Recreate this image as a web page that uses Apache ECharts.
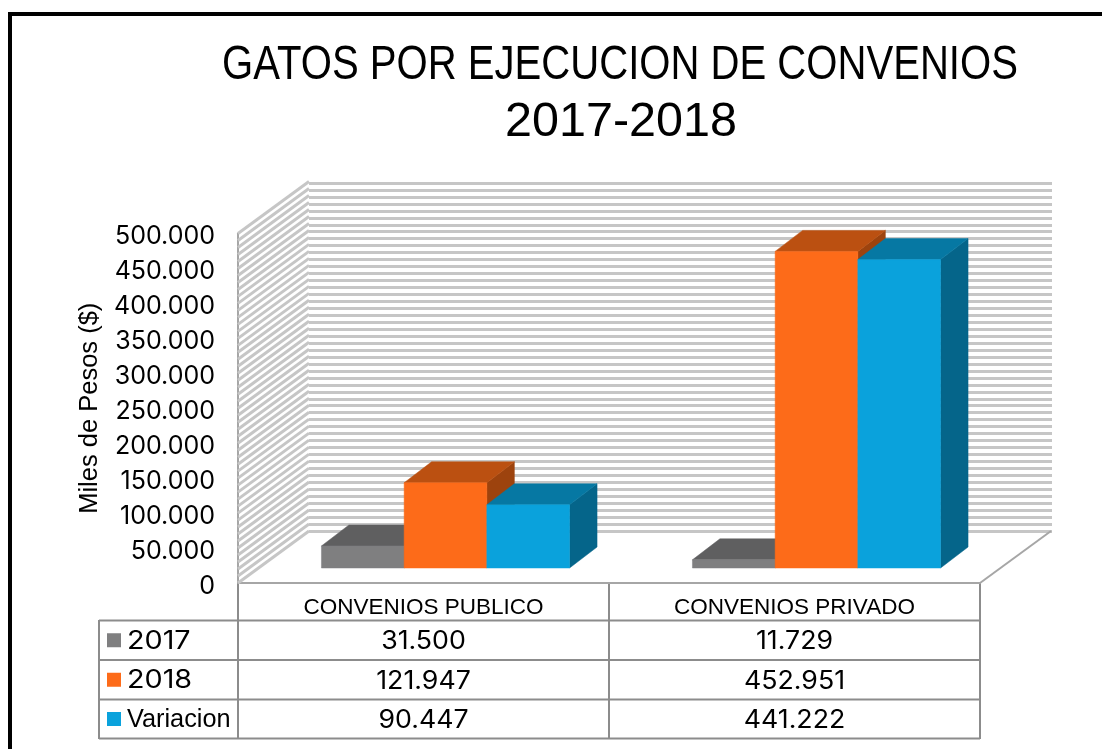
<!DOCTYPE html>
<html>
<head>
<meta charset="utf-8">
<style>
  html, body { margin: 0; padding: 0; background: #fff; }
  #chart { width: 1102px; height: 749px; }
</style>
<script src="https://cdn.jsdelivr.net/npm/echarts@6/dist/echarts.min.js"></script>
</head>
<body>
<div id="chart"></div>
<script>
const titleLines = ['GATOS POR EJECUCION DE CONVENIOS', '2017-2018']
const categories = ['CONVENIOS PUBLICO', 'CONVENIOS PRIVADO']
const seriesNames = ['2017', '2018', 'Variacion']
const values2017 = [31500, 11729]
const values2018 = [121947, 452951]
const valuesVariacion = [90447, 441222]
const allValues = [values2017, values2018, valuesVariacion]

// colores: frente, tapa, lateral
const barColors = [
  ['#7f7f80', '#5f5f60', '#5f5f60'],
  ['#fd6b19', '#bb5011', '#9d430e'],
  ['#0aa2dc', '#0678a3', '#05658a']
]

const AXIS_MAX = 500000
const GRID = { left: 238, top: 233.5, width: 742, height: 349.5 }
const WALL_DX = 71
const WALL_DY = -52
// caja de cada barra
const BAR_W = 82.7
const BAR_SHIFT_X = 22
const BAR_SHIFT_Y = -15
const BAR_DX = 27.5
const BAR_DY = -21

const LINE_GRAY = '#a6a6a6'
const TABLE_GRAY = '#8c8c8c'
const WALL_GRAY = '#c6c6c6'
const DIGIT_FONT = 'Inter, "Liberation Sans", sans-serif'
const TEXT_FONT = '"Liberation Sans", sans-serif'

// formato con punto de miles
const fmt = (v) => String(v).replace(/\B(?=(\d{3})+(?!\d))/g, '.')

const poly = (points, fill) => ({
  type: 'polygon',
  shape: { points },
  style: { fill, stroke: fill, lineWidth: 0.5 }
})

// barra 3D: frente, tapa y lateral
const renderBar = (params, api) => {
  const cat = api.value(0)
  const value = api.value(1)
  const idx = api.value(2)
  const base = api.coord([cat, 0])
  const top = api.coord([cat, value])
  const x0 = base[0] + BAR_SHIFT_X + (idx - 1.5) * BAR_W
  const x1 = x0 + BAR_W
  const y0 = base[1] + BAR_SHIFT_Y
  const y1 = top[1] + BAR_SHIFT_Y
  const c = barColors[idx]
  return {
    type: 'group',
    children: [
      poly([[x1, y0], [x1 + BAR_DX, y0 + BAR_DY], [x1 + BAR_DX, y1 + BAR_DY], [x1, y1]], c[2]),
      poly([[x0, y1], [x1, y1], [x1 + BAR_DX, y1 + BAR_DY], [x0 + BAR_DX, y1 + BAR_DY]], c[1]),
      poly([[x0, y0], [x1, y0], [x1, y1], [x0, y1]], c[0])
    ]
  }
}

// pared lateral rayada y borde del piso
const renderWalls = (params, api) => {
  const children = []
  for (let v = 0; v <= AXIS_MAX; v += 10000) {
    const p = api.coord([0, v])
    const x = GRID.left
    children.push({
      type: 'line',
      shape: { x1: x, y1: p[1], x2: x + WALL_DX, y2: p[1] + WALL_DY },
      style: { stroke: WALL_GRAY, lineWidth: 3 }
    })
  }
  const end = GRID.left + GRID.width
  const floor = api.coord([0, 0])[1]
  children.push({
    type: 'line',
    shape: { x1: end, y1: floor, x2: end + WALL_DX, y2: floor + WALL_DY },
    style: { stroke: LINE_GRAY, lineWidth: 2 }
  })
  return { type: 'group', children }
}

const barData = []
allValues.forEach((vals, s) => {
  vals.forEach((v, c) => barData.push([c, v, s]))
})

// texto con ancho ajustado (no hay fuente condensada instalada)
const scaledText = (text, x, y, font, align, scaleX) => ({
  type: 'text',
  x,
  y,
  scaleX,
  style: { text, x: 0, y: 0, fill: '#000', font, align, verticalAlign: 'middle' }
})

// titulo, tabla de datos y marco
const buildGraphics = () => {
  const els = []
  const rows = [620.5, 660, 699.5, 738.5]
  const cols = [238, 609, 980]
  const hLine = (y, x1, x2) => els.push({
    type: 'line',
    shape: { x1, y1: y, x2, y2: y },
    style: { stroke: TABLE_GRAY, lineWidth: 2 }
  })
  const vLine = (x, y1, y2) => els.push({
    type: 'line',
    shape: { x1: x, y1, x2: x, y2 },
    style: { stroke: TABLE_GRAY, lineWidth: 2 }
  })
  rows.forEach((y) => hLine(y, 99, 980))
  vLine(99, 620, 739)
  cols.forEach((x) => vLine(x, 583, 739))

  seriesNames.forEach((name, i) => {
    const cy = (rows[i] + rows[i + 1]) / 2
    els.push({
      type: 'rect',
      shape: { x: 107, y: cy - 7, width: 14, height: 14 },
      style: { fill: barColors[i][0] }
    })
    if (i === 2) {
      els.push(scaledText(name, 127, cy + 1, '25.3px ' + TEXT_FONT, 'left', 1))
    } else {
      els.push(scaledText(name, 127, cy + 1, '25px ' + DIGIT_FONT, 'left', 1.15))
    }
    allValues[i].forEach((v, c) => {
      els.push(scaledText(fmt(v), (cols[c] + cols[c + 1]) / 2, cy + 1.5, '25px ' + DIGIT_FONT, 'center', 1.07))
    })
  })

  els.push(scaledText(titleLines[0], 620, 66, '48px ' + TEXT_FONT, 'center', 0.835))
  els.push(scaledText(titleLines[1], 621, 123, '48.5px ' + TEXT_FONT, 'center', 1))

  // marco negro de la imagen
  els.push({
    type: 'polyline',
    shape: { points: [[10, 749], [10, 14], [1102, 14]] },
    style: { stroke: '#000', lineWidth: 4, fill: null }
  })
  return els
}

const chart = echarts.init(document.getElementById('chart'), null, { renderer: 'canvas' })
chart.setOption({
  animation: false,
  backgroundColor: '#fff',
  grid: [
    GRID,
    { left: GRID.left + WALL_DX, top: 183, width: GRID.width + 1, height: 348 }
  ],
  xAxis: [
    {
      type: 'category',
      data: categories,
      gridIndex: 0,
      axisLine: { lineStyle: { color: LINE_GRAY, width: 2 } },
      axisTick: { show: false },
      axisLabel: {
        margin: 13,
        color: '#000',
        fontSize: 22.5,
        fontFamily: TEXT_FONT
      }
    },
    { type: 'category', data: categories, gridIndex: 1, show: false }
  ],
  yAxis: [
    {
      type: 'value',
      gridIndex: 0,
      min: 0,
      max: AXIS_MAX,
      interval: 50000,
      name: 'Miles de Pesos ($)',
      nameLocation: 'middle',
      nameGap: 134,
      nameRotate: 90,
      nameTextStyle: { color: '#000', fontSize: 25.5, fontFamily: TEXT_FONT },
      axisLine: { show: true, lineStyle: { color: LINE_GRAY, width: 2 } },
      axisTick: { show: false },
      splitLine: { show: false },
      axisLabel: {
        margin: 23,
        formatter: (v) => '{n|' + fmt(v) + '}',
        rich: {
          n: {
            color: '#000',
            fontSize: 25,
            fontFamily: DIGIT_FONT,
            padding: [6, 0, 0, 0]
          }
        }
      }
    },
    {
      type: 'value',
      gridIndex: 1,
      min: 0,
      max: AXIS_MAX,
      interval: 50000,
      axisLine: { show: false },
      axisTick: { show: false },
      axisLabel: { show: false },
      splitLine: { show: true, lineStyle: { color: WALL_GRAY, width: 3 } },
      minorTick: { show: false, splitNumber: 5 },
      minorSplitLine: { show: true, lineStyle: { color: WALL_GRAY, width: 3 } }
    }
  ],
  graphic: { elements: buildGraphics() },
  series: [
    {
      type: 'custom',
      name: 'paredes',
      xAxisIndex: 0,
      yAxisIndex: 0,
      silent: true,
      clip: false,
      z: 1,
      renderItem: renderWalls,
      data: [[0, 0]]
    },
    {
      type: 'custom',
      name: 'barras',
      xAxisIndex: 0,
      yAxisIndex: 0,
      silent: true,
      clip: false,
      z: 3,
      renderItem: renderBar,
      encode: { x: 0, y: 1 },
      data: barData
    }
  ]
})

window.addEventListener('resize', () => chart.resize())
</script>
</body>
</html>
